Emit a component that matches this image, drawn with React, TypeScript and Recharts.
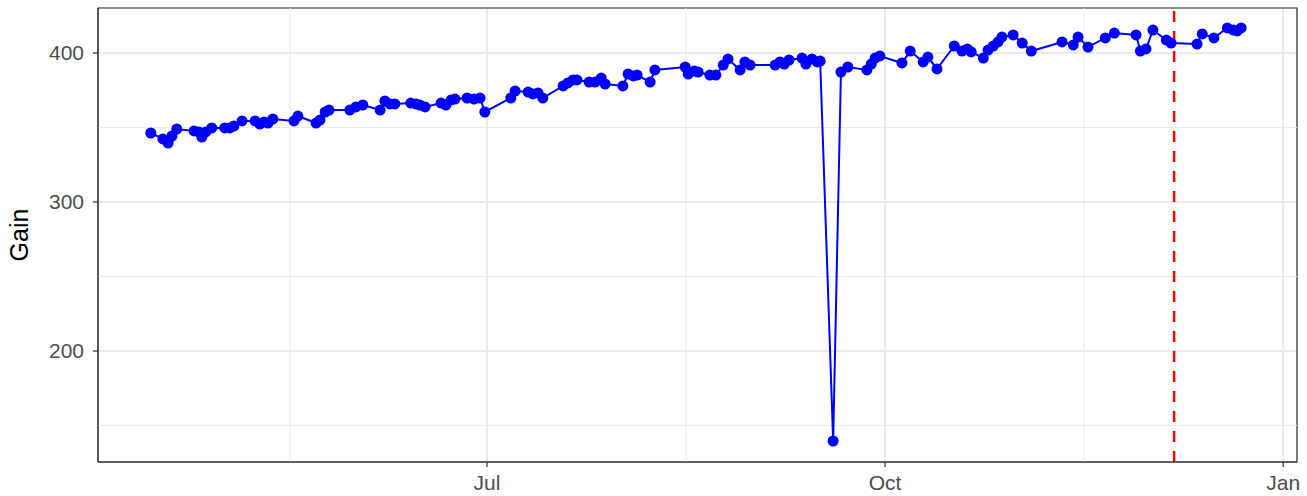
import React from "react";
import {
  LineChart, Line, XAxis, YAxis, CartesianGrid,
  ReferenceLine, ReferenceArea
} from "recharts";

// day of year (0 = Jan 1)
const days = [
  103.3, 106.1, 107.3, 108.2, 109.3, 113.3, 114.4, 115.1, 116.0, 117.4,
  120.4, 121.6, 122.5, 124.4, 127.4, 128.5, 129.5, 130.4, 131.5, 136.4,
  137.3, 141.5, 142.4, 143.6, 144.5, 149.3, 150.7, 152.3, 156.3, 157.4,
  158.6, 159.7, 163.4, 164.6, 165.5, 166.7, 170.4, 171.5, 172.7, 173.6,
  176.4, 178.0, 179.4, 180.5, 186.5, 187.5, 190.5, 191.6, 192.8, 193.9,
  198.6, 199.7, 200.9, 201.8, 204.6, 206.0, 207.4, 208.3, 212.4, 213.6,
  214.8, 215.7, 218.7, 219.8, 226.8, 227.5, 228.9, 229.8, 232.5, 233.9,
  235.6, 236.7, 239.5, 240.6, 241.8, 247.6, 248.7, 249.7, 250.8, 253.8,
  254.7, 256.1, 257.3, 258.0, 261.0, 262.8, 264.4, 268.8, 269.8, 270.7,
  271.8, 276.9, 278.8, 281.8, 282.9, 285.0, 289.0, 290.8, 292.0, 292.9,
  295.7, 296.8, 298.0, 299.1, 300.0, 302.6, 304.7, 306.8, 313.9, 316.5,
  317.6, 319.9, 323.9, 326.0, 331.0, 332.0, 333.3, 334.9, 338.0, 339.1,
  345.1, 346.3, 349.0, 352.1, 353.5, 354.4, 355.3,
];

const gains = [
  346.3, 342.3, 339.6, 344.3, 349.0, 347.7, 347.0, 343.6, 347.0, 349.7,
  349.7, 349.7, 351.0, 354.4, 354.4, 352.3, 353.7, 353.0, 355.7, 354.4,
  357.7, 353.0, 355.0, 360.4, 361.7, 361.7, 363.8, 365.1, 361.7, 367.8,
  365.8, 365.8, 366.4, 365.8, 365.1, 363.8, 366.4, 365.1, 368.5, 369.1,
  369.8, 369.1, 369.8, 360.4, 369.8, 374.5, 373.8, 372.5, 373.2, 369.8,
  377.9, 379.9, 381.9, 381.9, 380.5, 380.5, 383.2, 379.2, 377.9, 385.9,
  384.6, 385.2, 380.5, 388.6, 390.6, 385.9, 387.9, 387.2, 385.2, 385.2,
  391.9, 396.0, 388.6, 394.0, 391.9, 391.9, 394.0, 392.6, 395.3, 396.6,
  392.6, 396.0, 394.0, 394.6, 139.6, 387.2, 390.6, 388.6, 392.6, 396.6,
  398.0, 393.3, 401.3, 394.0, 397.3, 389.3, 404.7, 401.3, 402.7, 400.7,
  396.6, 402.0, 404.7, 407.4, 410.7, 412.1, 406.7, 401.3, 407.4, 405.4,
  410.7, 404.0, 410.1, 413.4, 412.1, 401.3, 402.7, 415.4, 408.7, 406.7,
  406.0, 412.8, 410.1, 416.8, 415.4, 414.8, 416.8,
];

const xBreaks = [181, 273, 365];
const xBreakLabels = ["Jul", "Oct", "Jan"];
const xMinor = [135.5, 227, 319];
const yBreaks = [200, 300, 400];
const yMinor = [150, 250, 350];
const cutoffDay = 339.8;

const xDomain = [91.1, 368.2];
const yDomain = [125.5, 430.2];

const data = days.map((d, i) => ({ day: d, gain: gains[i] }));

const font = "'Liberation Sans', Arial, Helvetica, sans-serif";

export default function App() {
  return (
    <div style={{ position: "absolute", left: 0, top: 0, background: "#fff" }}>
      <LineChart
        width={1307}
        height={496}
        data={data}
        margin={{ top: 8, right: 10, bottom: 0, left: 0 }}
        style={{ fontFamily: font }}
      >
        <CartesianGrid stroke="#EBEBEB" strokeWidth={2} />
        {yMinor.map((v) => (
          <ReferenceLine key={"ym" + v} y={v} stroke="#EBEBEB" strokeWidth={1} />
        ))}
        {xMinor.map((v) => (
          <ReferenceLine key={"xm" + v} x={v} stroke="#EBEBEB" strokeWidth={1} />
        ))}
        <XAxis
          type="number"
          dataKey="day"
          domain={xDomain}
          allowDataOverflow
          ticks={xBreaks}
          interval={0}
          tickFormatter={(v: number) => xBreakLabels[xBreaks.indexOf(v)] ?? ""}
          height={34}
          tickSize={5}
          tickMargin={8}
          axisLine={{ stroke: "#333333" }}
          tickLine={{ stroke: "#333333", strokeWidth: 1.2 }}
          tick={{ fontSize: 21, fill: "#4D4D4D", fontFamily: font }}
        />
        <YAxis
          type="number"
          domain={yDomain}
          allowDataOverflow
          ticks={yBreaks}
          interval={0}
          width={98}
          tickSize={5}
          tickMargin={9}
          axisLine={{ stroke: "#333333" }}
          tickLine={{ stroke: "#333333", strokeWidth: 1.2 }}
          tick={{ fontSize: 21, fill: "#4D4D4D", fontFamily: font }}
          label={{
            value: "Gain",
            angle: -90,
            position: "insideLeft",
            offset: 19,
            style: { textAnchor: "middle", fontSize: 25, fill: "#000", fontFamily: font },
          }}
        />
        <ReferenceArea
          x1={xDomain[0]}
          x2={xDomain[1]}
          y1={yDomain[0]}
          y2={yDomain[1]}
          fill="none"
          stroke="#333333"
          strokeWidth={1.2}
        />
        <Line
          type="linear"
          dataKey="gain"
          stroke="#0000FF"
          strokeWidth={2}
          dot={{ r: 5.5, fill: "#0000FF", stroke: "none" }}
          activeDot={false}
          isAnimationActive={false}
        />
        <ReferenceLine
          x={cutoffDay}
          stroke="#FF0000"
          strokeWidth={2.5}
          strokeDasharray="11 9"
        />
      </LineChart>
    </div>
  );
}
